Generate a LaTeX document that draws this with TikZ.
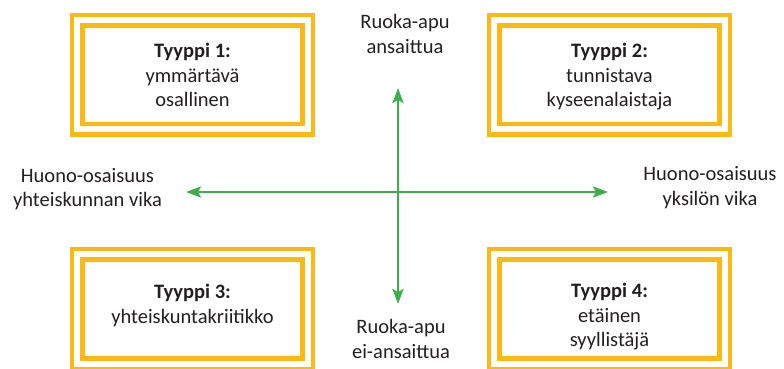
\documentclass[tikz,border=0pt]{standalone}
\usepackage{fontspec}
\setmainfont{Carlito}
\usetikzlibrary{arrows.meta}
\definecolor{boxor}{HTML}{FDB913}
\definecolor{axgreen}{HTML}{3DAE49}
\definecolor{txt}{HTML}{231F20}
\begin{document}
\begin{tikzpicture}[x=1pt,y=-1pt,
  typebox/.style={draw=boxor, line width=4.4pt, double=white, double distance=6.2pt,
    minimum width=230.3pt, minimum height=109.3pt, inner sep=0pt},
  lbl/.style={font=\fontsize{20.5}{24.5}\selectfont, text=txt, align=center, inner sep=0pt},
  axis/.style={draw=axgreen, line width=2.5pt, {Stealth[length=15pt,width=11pt,inset=3pt]}-{Stealth[length=15pt,width=11pt,inset=3pt]}}]
\useasboundingbox (0,0) rectangle (784,368);
\node[typebox] (b1) at (192.5,74.7) {};
\node[typebox] (b2) at (609.5,74.7) {};
\node[typebox] (b3) at (192.5,309) {};
\node[typebox] (b4) at (609.5,309) {};
\node[lbl, anchor=base] (t1) at (192.5,106.7) {\textbf{Tyyppi 1:}\\ymmärtävä\\osallinen};
\node[lbl, anchor=base] (t2) at (609.5,106.7) {\textbf{Tyyppi 2:}\\tunnistava\\kyseenalaistaja};
\node[lbl, anchor=base] (t3) at (192.5,323) {\textbf{Tyyppi 3:}\\yhteiskuntakriitikko};
\node[lbl, anchor=base] (t4) at (609.5,346.7) {\textbf{Tyyppi 4:}\\etäinen\\syyllistäjä};
\node[lbl, anchor=base] (top) at (405,53.3) {Ruoka-apu\\ansaittua};
\node[lbl, anchor=base] (bot) at (401,358) {Ruoka-apu\\ei-ansaittua};
\node[lbl, anchor=base] (left) at (87.5,206.7) {Huono-osaisuus\\yhteiskunnan vika};
\node[lbl, anchor=base] (right) at (710,205) {Huono-osaisuus\\yksilön vika};
\coordinate (vt) at (398,88);
\coordinate (vb) at (398,304);
\coordinate (hl) at (186,192);
\coordinate (hr) at (608,192);
\draw[axis] (vb) -- (vt);
\draw[axis] (hl) -- (hr);
\end{tikzpicture}
\end{document}
